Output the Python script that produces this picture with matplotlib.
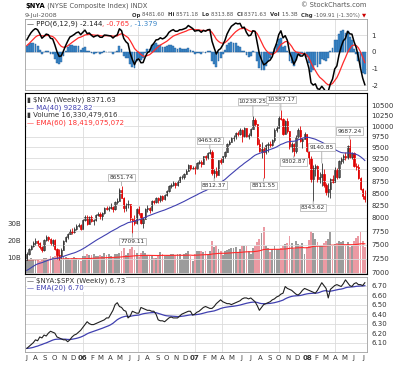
import numpy as np
import pandas as pd
import matplotlib
matplotlib.use('Agg')
import matplotlib.pyplot as plt
import matplotlib.dates as mdates
from matplotlib.ticker import NullLocator

# ---- data (weekly bars) ----
weeks = pd.date_range('2005-07-04', periods=158, freq='W-MON')

# closes before the visible window (warm-up for MA / PPO)
pre_close = [6620, 6560, 6500, 6530, 6640, 6850, 6950, 6990, 7010, 7050, 7020, 7100, 7140, 7250,
             7050, 7030, 6920, 6950, 7100, 7200, 7190, 7300, 7380, 7250, 7150, 7080, 7100, 7120,
             6900, 6950, 6900, 7000, 6980, 7100, 7150, 7180, 7220, 7300, 7150, 7230]

close = [
    # 2005
    7330, 7420, 7480, 7520, 7560, 7520, 7450, 7400, 7580, 7640, 7600, 7520, 7590, 7420, 7320, 7300,
    7410, 7560, 7640, 7700, 7760, 7740, 7790, 7850, 7870, 7790,
    # 2006
    7960, 8020, 7880, 8010, 7940, 7960, 8060, 8080, 8030, 8090, 8200, 8170, 8190, 8210, 8170, 8310,
    8340, 8570, 8400, 8190, 8260, 8280, 7980, 7960, 7900, 8170, 8090, 7910, 7990, 8170, 8200, 8150,
    8330, 8310, 8390, 8350, 8430, 8370, 8460, 8540, 8650, 8670, 8710, 8660, 8740, 8830, 8840, 8910,
    8970, 9090, 9020, 9040,
    # 2007
    9010, 9140, 9170, 9130, 9290, 9250, 9370, 9390, 8930, 8970, 8890, 9200, 9170, 9290, 9400, 9580,
    9630, 9720, 9750, 9830, 9810, 9910, 9760, 9950, 9750, 9780, 9930, 10150, 10040, 9580, 9420, 9450,
    9380, 9540, 9580, 9560, 9660, 9900, 9960, 10200, 10180, 9800, 10120, 9880, 9500, 9580, 9420, 9750,
    9910, 9640, 9690, 9800,
    # 2008
    9420, 9250, 8800, 9030, 9080, 8790, 8830, 8900, 8660, 8520, 8590, 8790, 8740, 8980, 8830, 9180,
    9230, 9290, 9260, 9520, 9280, 9360, 9080, 9050, 8810, 8580, 8440, 8371.63]

high = [
    7360, 7440, 7500, 7560, 7620, 7590, 7540, 7470, 7600, 7670, 7660, 7620, 7610, 7600, 7440, 7420,
    7440, 7580, 7660, 7720, 7780, 7800, 7830, 7880, 7900, 7880,
    7980, 8060, 8050, 8030, 8060, 7990, 8080, 8110, 8120, 8110, 8220, 8240, 8230, 8290, 8230, 8340,
    8390, 8600, 8651.74, 8420, 8290, 8350, 8280, 8000, 8050, 8190, 8230, 8100, 8010, 8200, 8250, 8220,
    8350, 8360, 8410, 8420, 8450, 8450, 8480, 8570, 8670, 8700, 8750, 8720, 8770, 8850, 8870, 8930,
    9000, 9110, 9100, 9070,
    9080, 9160, 9200, 9210, 9310, 9330, 9390, 9463.62, 9440, 9010, 9050, 9220, 9260, 9310, 9420, 9600,
    9670, 9750, 9790, 9850, 9880, 9960, 9920, 9970, 9960, 9830, 9960, 10238.25, 10210, 10050, 9680, 9620,
    9500, 9580, 9620, 9640, 9700, 9950, 10000, 10240, 10387.17, 10190, 10150, 10200, 9880, 9620, 9600, 9780,
    9950, 9990, 9720, 9860,
    9800, 9460, 9300, 9100, 9110, 9100, 8950, 9140.85, 9000, 8700, 8700, 8810, 8880, 9050, 9040, 9200,
    9280, 9350, 9400, 9560, 9687.24, 9400, 9400, 9150, 9110, 8830, 8600, 8571.18]

low = [
    7220, 7310, 7400, 7460, 7490, 7480, 7420, 7360, 7380, 7560, 7570, 7490, 7480, 7400, 7250, 7220,
    7260, 7400, 7540, 7610, 7690, 7700, 7720, 7770, 7820, 7770,
    7790, 7940, 7860, 7880, 7920, 7860, 7950, 8040, 7980, 7960, 8080, 8150, 8140, 8170, 8120, 8160,
    8280, 8340, 8390, 8120, 8130, 8190, 7940, 7709.11, 7860, 7880, 8060, 7880, 7800, 7990, 8110, 8090,
    8140, 8280, 8290, 8300, 8320, 8340, 8360, 8430, 8520, 8610, 8640, 8610, 8640, 8730, 8800, 8790,
    8900, 8960, 8990, 9000,
    8900, 9000, 9110, 9060, 9120, 9220, 9240, 9340, 8880, 8812.37, 8830, 8880, 9130, 9160, 9260, 9380,
    9560, 9610, 9650, 9700, 9770, 9790, 9630, 9740, 9730, 9680, 9770, 9920, 10000, 9540, 9380, 9250,
    8811.55, 9340, 9380, 9500, 9520, 9630, 9860, 9950, 10140, 9780, 9800, 9830, 9450, 9380, 9302.87, 9360,
    9720, 9610, 9480, 9680,
    9400, 9130, 8740, 8343.62, 8850, 8730, 8700, 8650, 8620, 8450, 8420, 8400, 8700, 8740, 8800, 8820,
    9120, 9150, 9220, 9240, 9250, 9230, 9050, 8980, 8790, 8560, 8370, 8313.88]

# weekly volume, billions
volume = [
    8.5, 9.0, 9.5, 8.8, 8.6, 9.2, 8.0, 8.4, 9.5, 9.8, 9.0, 10.5, 10.2, 11.0, 10.8, 11.2, 9.8, 10.5,
    10.0, 9.6, 8.5, 9.8, 10.2, 9.5, 8.2, 7.5,
    10.8, 11.0, 12.0, 11.5, 11.2, 11.8, 10.6, 10.5, 11.5, 11.0, 12.8, 11.5, 12.0, 10.5, 9.8, 11.8,
    12.0, 12.4, 13.5, 15.5, 11.5, 12.5, 14.8, 16.0, 14.5, 12.8, 10.2, 12.8, 13.8, 12.5, 11.5, 11.0,
    10.5, 9.5, 9.8, 11.5, 13.0, 11.8, 10.5, 11.2, 11.5, 12.0, 11.8, 11.5, 11.8, 12.0, 9.0, 12.2,
    12.5, 14.0, 10.5, 7.5,
    12.0, 13.5, 13.8, 13.5, 13.2, 13.8, 12.0, 14.0, 20.0, 16.0, 17.5, 15.0, 14.0, 11.5, 13.5, 14.5,
    15.0, 15.5, 15.8, 16.0, 13.0, 15.0, 17.0, 16.5, 16.5, 14.0, 12.0, 15.5, 17.0, 19.0, 21.0, 24.5,
    28.0, 17.0, 15.5, 13.0, 15.0, 16.5, 15.0, 15.0, 15.5, 17.0, 18.0, 18.5, 23.0, 18.5, 15.0, 20.0,
    18.0, 17.5, 18.5, 12.0,
    16.0, 20.5, 25.5, 24.5, 21.0, 19.0, 16.5, 17.0, 18.5, 19.5, 21.0, 25.0, 17.5, 18.0, 18.5, 20.0,
    19.0, 19.5, 17.5, 19.0, 16.0, 16.5, 20.0, 21.5, 22.5, 25.0, 20.0, 16.3]

# $NYA:$SPX weekly ratio
ratio = [
    6.04, 6.06, 6.08, 6.10, 6.13, 6.12, 6.16, 6.15, 6.18, 6.17, 6.20, 6.22, 6.21, 6.20, 6.16, 6.15,
    6.14, 6.13, 6.13, 6.11, 6.13, 6.16, 6.18, 6.19, 6.21, 6.23,
    6.26, 6.29, 6.32, 6.30, 6.29, 6.29, 6.30, 6.31, 6.32, 6.33, 6.34, 6.36, 6.36, 6.40, 6.44, 6.50,
    6.52, 6.48, 6.47, 6.44, 6.43, 6.36, 6.38, 6.43, 6.42, 6.41, 6.41, 6.47, 6.46, 6.45, 6.44, 6.44,
    6.43, 6.43, 6.40, 6.34, 6.33, 6.33, 6.32, 6.34, 6.36, 6.37, 6.36, 6.36, 6.36, 6.38, 6.40, 6.41,
    6.42, 6.43, 6.43, 6.39,
    6.40, 6.42, 6.43, 6.45, 6.47, 6.48, 6.47, 6.46, 6.46, 6.48, 6.51, 6.53, 6.55, 6.53, 6.52, 6.51,
    6.51, 6.50, 6.51, 6.52, 6.53, 6.54, 6.56, 6.57, 6.57, 6.56, 6.57, 6.55, 6.53, 6.49, 6.44, 6.47,
    6.50, 6.51, 6.52, 6.53, 6.55, 6.56, 6.58, 6.59, 6.61, 6.62, 6.69, 6.67, 6.66, 6.65, 6.63, 6.61,
    6.60, 6.62, 6.65, 6.67,
    6.66, 6.65, 6.64, 6.63, 6.62, 6.65, 6.69, 6.73, 6.70, 6.67, 6.57, 6.66, 6.68, 6.70, 6.71, 6.70,
    6.69, 6.72, 6.76, 6.73, 6.70, 6.69, 6.72, 6.73, 6.71, 6.71, 6.70, 6.73]

# annotated swing points (week index, high/low)
ann_week = [44, 49, 85, 87, 105, 110, 118, 124, 133, 137, 150]
ann_kind = ['hi', 'lo', 'hi', 'lo', 'hi', 'lo', 'hi', 'lo', 'lo', 'hi', 'hi']
ann_off = [8, -8, 8, -7, 15, -7, 11, -6, -7, 16, 8]   # pixels

month_labels = ('J A S O N D 06 F M A M J J A S O N D 07 F M A M J J A S O N D '
                '08 F M A M J J').split()
month_starts = pd.date_range('2005-07-01', periods=len(month_labels), freq='MS')
vgrid = ['2006-01-01', '2006-07-01', '2007-01-01', '2007-04-01', '2007-10-01', '2008-04-01']

price_ticks = list(range(7000, 10501, 250))
vol_ticks = [10, 20, 30]
ppo_ticks = [1, 0, -1, -2]
ratio_ticks = [6.1, 6.2, 6.3, 6.4, 6.5, 6.6, 6.7]

# ---- indicators ----
allc = pd.Series(pre_close + close)
ma40 = allc.rolling(40).mean().values[-158:]
e6 = allc.ewm(span=6, adjust=False).mean()
e12 = allc.ewm(span=12, adjust=False).mean()
ppo_all = (e6 - e12) / e12 * 100
sig_all = ppo_all.ewm(span=9, adjust=False).mean()
ppo = ppo_all.values[-158:]
sig = sig_all.values[-158:]
hist = ppo - sig
vol_ema = pd.Series(volume).ewm(span=60, adjust=False).mean().values
ratio_ema = pd.Series(ratio).ewm(span=20, adjust=False).mean().values

close = np.array(close)
high = np.array(high)
low = np.array(low)
opens = np.array(pre_close[-1:] + list(close[:-1]))
up = close >= opens
xd = mdates.date2num(weeks)

# ---- figure ----
W, H = 400, 365
fig = plt.figure(figsize=(4, 3.65), dpi=100)
GRID = '#dcdcdc'
SPINE = '#a0a0a0'
FS = 5


def panel(top, bottom):
    a = fig.add_axes([25 / W, 1 - bottom / H, 342 / W, (bottom - top) / H])
    for s in a.spines.values():
        s.set_color(SPINE)
        s.set_linewidth(0.6)
    return a


ax_ppo = panel(19, 90)
ax_vol = panel(93, 274)
ax_px = ax_vol.twinx()
ax_rt = panel(277, 352)

xlim = (mdates.datestr2num('2005-06-28'), mdates.datestr2num('2008-07-14'))
for a in (ax_ppo, ax_vol, ax_px, ax_rt):
    a.set_xlim(*xlim)
    a.set_xticks(mdates.date2num(month_starts))
    a.tick_params(axis='x', length=0, labelbottom=False)
    a.tick_params(axis='y', length=0, labelsize=FS, colors='#333333', pad=3)
for a in (ax_ppo, ax_vol, ax_rt):
    for d in vgrid:
        a.axvline(mdates.datestr2num(d), color=GRID, lw=0.6, zorder=0)

# PPO panel
ax_ppo.set_ylim(-2.28, 1.98)
ax_ppo.set_yticks(ppo_ticks)
ax_ppo.set_yticklabels([str(t) for t in ppo_ticks])
ax_ppo.yaxis.tick_right()
ax_ppo.grid(axis='y', color=GRID, lw=0.6)
ax_ppo.set_axisbelow(True)
ax_ppo.bar(xd, hist, width=6, color='#3f8bcc', edgecolor='#1d5a96', linewidth=0.3, zorder=2)
ax_ppo.plot(xd, sig, color='#ff2a2a', lw=0.9, zorder=3)
ax_ppo.plot(xd, ppo, color='black', lw=1.1, zorder=4)

# volume (behind price)
vcol = np.where(up, '#9c9c9c', '#eb9aa3')
ax_vol.bar(xd, volume, width=6, color=vcol, linewidth=0)
ax_vol.plot(xd, vol_ema, color='#ff2a2a', lw=0.8)
ax_vol.set_ylim(0, 108.4)
ax_vol.set_yticks(vol_ticks)
ax_vol.set_yticklabels([f'{v}B' for v in vol_ticks])

# price
ax_px.set_yscale('log')
ax_px.set_ylim(6983, 10836)
ax_px.set_yticks(price_ticks)
ax_px.set_yticklabels([str(p) for p in price_ticks])
ax_px.yaxis.set_minor_locator(NullLocator())
ax_px.tick_params(axis='y', which='both', length=0, labelsize=FS, colors='#333333', pad=3)
ax_px.grid(axis='y', color=GRID, lw=0.6)
edge = np.where(up, '#303030', '#e00000')
face = np.where(up, 'white', '#e00000')
ax_px.vlines(xd, low, high, colors=edge, lw=0.6)
body_lo = np.minimum(opens, close)
body_h = np.maximum(np.abs(close - opens), 3)
ax_px.bar(xd, body_h, bottom=body_lo, width=4, color=face, edgecolor=edge, linewidth=0.5)
ax_px.plot(xd, ma40, color='#4040b0', lw=0.8)

for wk, kind, off in zip(ann_week, ann_kind, ann_off):
    val = high[wk] if kind == 'hi' else low[wk]
    ax_px.annotate(f'{val:.2f}', xy=(xd[wk], val), xytext=(0, off * 0.72),
                   textcoords='offset points', ha='center', va='center', fontsize=4.2,
                   color='#333333',
                   bbox=dict(boxstyle='square,pad=0.2', fc='white', ec='#aaaaaa', lw=0.5),
                   arrowprops=dict(arrowstyle='-', color='#999999', lw=0.5,
                                   shrinkA=0, shrinkB=0))

# ratio panel
ax_rt.set_ylim(6.002, 6.79)
ax_rt.set_yticks(ratio_ticks)
ax_rt.set_yticklabels([f'{t:.2f}' for t in ratio_ticks])
ax_rt.yaxis.tick_right()
ax_rt.grid(axis='y', color=GRID, lw=0.6)
ax_rt.set_axisbelow(True)
ax_rt.plot(xd, ratio_ema, color='#4040b0', lw=0.9)
ax_rt.plot(xd, ratio, color='#202020', lw=0.8)
ax_rt.tick_params(axis='x', labelbottom=True, labelsize=FS, colors='#333333', pad=2)
ax_rt.set_xticklabels(month_labels)
for t in ax_rt.get_xticklabels():
    if t.get_text().isdigit():
        t.set_fontweight('bold')

# ---- texts ----
renderer = fig.canvas.get_renderer()


def seq_text(x, y, parts, size=FS, align='left', bg=False):
    objs = []
    for s, w, c in parts:
        t = fig.text(0, 1 - y / H, s, fontsize=size, fontweight=w, color=c,
                     ha='left', va='center')
        if bg:
            t.set_bbox(dict(fc='white', ec='none', pad=0.2))
        objs.append((t, t.get_window_extent(renderer=renderer).width))
    total = sum(wd for _, wd in objs)
    cur = x - total if align == 'right' else x
    for t, wd in objs:
        t.set_x(cur / W)
        cur += wd


seq_text(25, 6, [(r'\$NYA', 'bold', 'black'),
                 (' (NYSE Composite Index) INDX', 'normal', '#555555')], size=4.9)
seq_text(366, 5, [('© StockCharts.com', 'normal', '#555555')], size=4.8, align='right')
seq_text(25, 15, [('9-Jul-2008', 'normal', '#555555')], size=4.6)
seq_text(366, 15, [('Op ', 'bold', '#333333'), ('8481.60  ', 'normal', '#555555'),
                   ('Hi ', 'bold', '#333333'), ('8571.18  ', 'normal', '#555555'),
                   ('Lo ', 'bold', '#333333'), ('8313.88  ', 'normal', '#555555'),
                   ('Cl ', 'bold', '#333333'), ('8371.63  ', 'normal', '#555555'),
                   ('Vol ', 'bold', '#333333'), ('15.3B  ', 'normal', '#555555'),
                   ('Chg ', 'bold', '#333333'), ('-109.91 (-1.30%) ', 'normal', '#555555'),
                   ('▼', 'normal', '#cc0000')], size=3.9, align='right')

seq_text(27, 24, [('— PPO(6,12,9) -2.144', 'normal', '#222222'),
                  (', -0.765', 'normal', '#ff3030'),
                  (', -1.379', 'normal', '#3a86c8')], bg=True)
seq_text(27, 100, [('▮ ', 'normal', '#333333'), (r'\$NYA (Weekly) 8371.63', 'normal', '#333333')], bg=True)
seq_text(27, 108, [('— MA(40) 9282.82', 'normal', '#4040b0')], bg=True)
seq_text(27, 115.5, [('▮ Volume 16,330,479,616', 'normal', '#333333')], bg=True)
seq_text(27, 123, [('— EMA(60) 18,419,075,072', 'normal', '#ff3030')], bg=True)
seq_text(27, 281, [('— ', 'normal', '#333333'), (r'\$NYA:\$SPX (Weekly) 6.73', 'normal', '#333333')], bg=True)
seq_text(27, 288, [('— EMA(20) 6.70', 'normal', '#4040b0')], bg=True)

fig.savefig('out.png', dpi=100)
